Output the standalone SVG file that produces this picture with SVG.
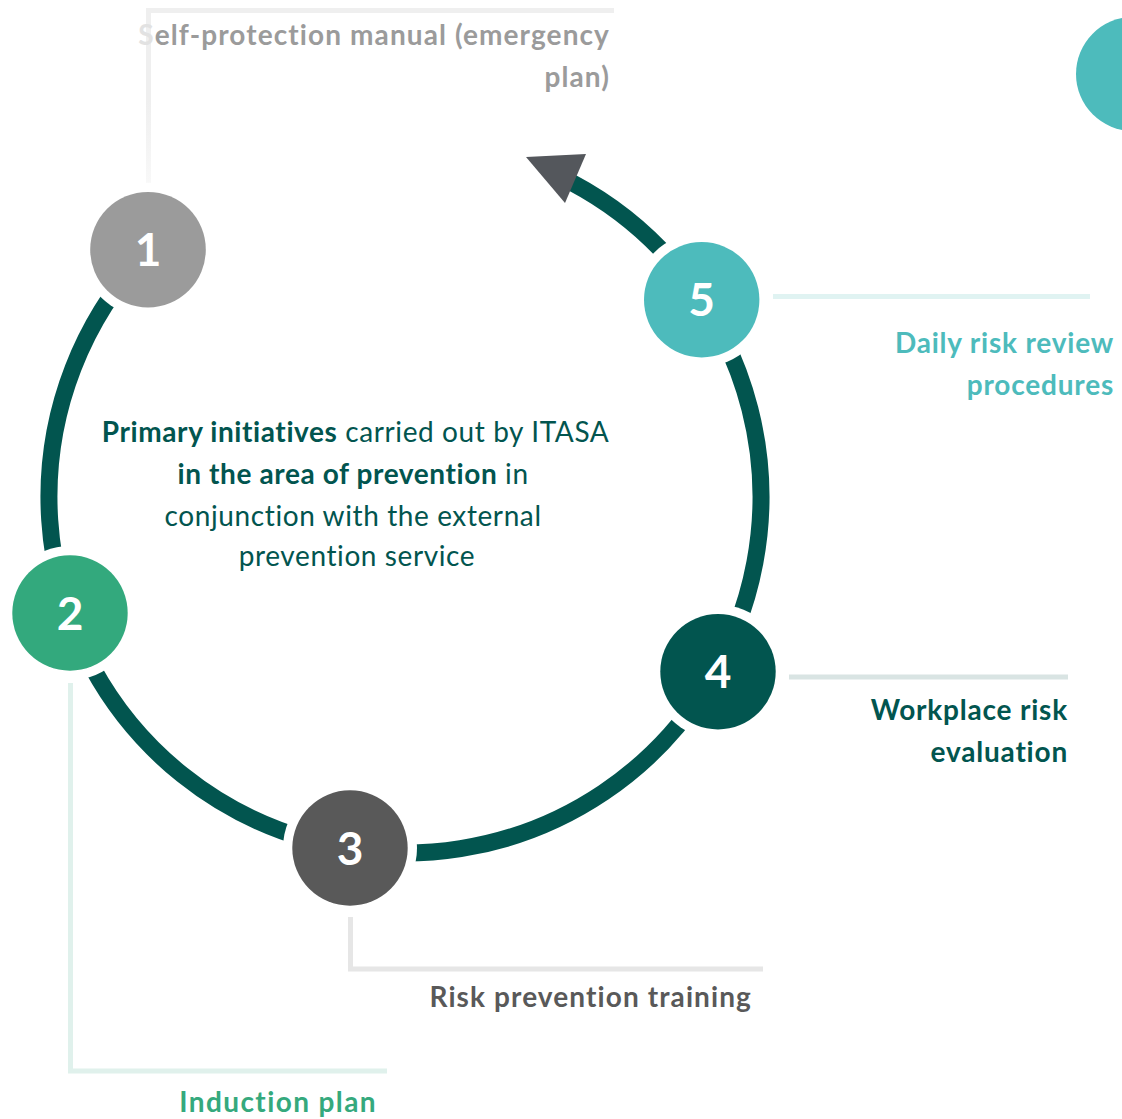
<svg xmlns="http://www.w3.org/2000/svg" width="1122" height="1119" viewBox="0 0 1122 1119">
  <style>
    .lbl { font-family: Lato, "Liberation Sans", sans-serif; font-weight: 700; font-size: 28px; letter-spacing: 0.8px; }
    .wide { letter-spacing: 1.1px; }
    .wider { letter-spacing: 1.4px; }
    .num { font-family: Lato, "Liberation Sans", sans-serif; font-weight: 700; font-size: 46px; fill: #ffffff; text-anchor: middle; }
    .lead { fill: none; stroke-width: 5; }
    .gap { fill: #ffffff; }
    .center { font-family: Lato, "Liberation Sans", sans-serif; font-size: 28px; letter-spacing: 0.6px; fill: #02554F; text-anchor: middle; }
    .center .b { font-weight: 700; }
  </style>
  <defs>
    <linearGradient id="fadeDown" gradientUnits="userSpaceOnUse" x1="0" y1="100" x2="0" y2="190">
      <stop offset="0" stop-color="#EFEFEF"/>
      <stop offset="1" stop-color="#F9F9F9"/>
    </linearGradient>
  </defs>
  <rect width="1122" height="1119" fill="#ffffff"/>

  <!-- decorative circle cut by the right edge -->
  <circle cx="1133" cy="74" r="57" fill="#4DBBBC"/>

  <!-- leader lines from each step to its caption -->
  <g id="leaders">
    <line class="lead" stroke="url(#fadeDown)" x1="148.5" y1="10.5" x2="148.5" y2="190"/>
    <line class="lead" stroke="#EFEFEF" x1="146" y1="10.5" x2="614" y2="10.5"/>
    <line class="lead" stroke="#E0F3F2" x1="773" y1="296.5" x2="1090" y2="296.5"/>
    <line class="lead" stroke="#D9E4E3" x1="789" y1="677" x2="1068" y2="677"/>
    <polyline class="lead" stroke="#E6E6E6" points="350.5,917 350.5,969 763,969"/>
    <polyline class="lead" stroke="#E0F1EC" points="70.5,683 70.5,1071 387,1071"/>
  </g>

  <!-- cycle ring and arrowhead -->
  <g id="connectors">
    <path d="M148.9,249.7 A356,356 0 1 0 572.1,182.7" fill="none" stroke="#02554F" stroke-width="17"/>
    <polygon points="526,157 586,154 565,203" fill="#54575C"/>
  </g>

  <g id="node1">
    <circle class="gap" cx="148" cy="249.7" r="67"/>
    <circle cx="148" cy="249.7" r="57.8" fill="#9B9B9B"/>
    <text class="num" x="148" y="266">1</text>
    <text class="lbl wide" fill="#9B9B9B" text-anchor="end"><tspan x="610" y="45"><tspan fill="#E2E2E2">S</tspan>elf-protection manual (emergency</tspan><tspan x="610" y="87">plan)</tspan></text>
  </g>

  <g id="node2">
    <circle class="gap" cx="70" cy="613" r="67"/>
    <circle cx="70" cy="613" r="57.7" fill="#33A97D"/>
    <text class="num" x="70" y="629.5">2</text>
    <text class="lbl wider" fill="#35A97D" text-anchor="end" x="377" y="1112">Induction plan</text>
  </g>

  <g id="node3">
    <circle class="gap" cx="350" cy="848" r="67"/>
    <circle cx="350" cy="848" r="57.7" fill="#595959"/>
    <text class="num" x="350" y="864.5">3</text>
    <text class="lbl wide" fill="#595959" text-anchor="end" x="752" y="1007">Risk prevention training</text>
  </g>

  <g id="node4">
    <circle class="gap" cx="718" cy="671.7" r="67"/>
    <circle cx="718" cy="671.7" r="57.7" fill="#02554F"/>
    <text class="num" x="718" y="688">4</text>
    <text class="lbl" fill="#02554F" text-anchor="end"><tspan x="1068" y="720">Workplace risk</tspan><tspan x="1068" y="762">evaluation</tspan></text>
  </g>

  <g id="node5">
    <circle class="gap" cx="701.7" cy="299.8" r="67"/>
    <circle cx="701.7" cy="299.8" r="57.7" fill="#4DBBBC"/>
    <text class="num" x="701.7" y="316">5</text>
    <text class="lbl" fill="#4DBBBC" text-anchor="end"><tspan x="1114" y="353">Daily risk review</tspan><tspan x="1114" y="395">procedures</tspan></text>
  </g>

  <!-- caption in the middle of the cycle -->
  <g id="center-caption">
    <text class="center">
      <tspan x="359" y="442"><tspan class="b">Primary initiatives</tspan> carried out by ITASA</tspan>
      <tspan x="357" y="484"><tspan class="b">in the area of prevention</tspan> in</tspan>
      <tspan x="357" y="526">conjunction with the external</tspan>
      <tspan x="357" y="566">prevention service</tspan>
    </text>
  </g>
</svg>
